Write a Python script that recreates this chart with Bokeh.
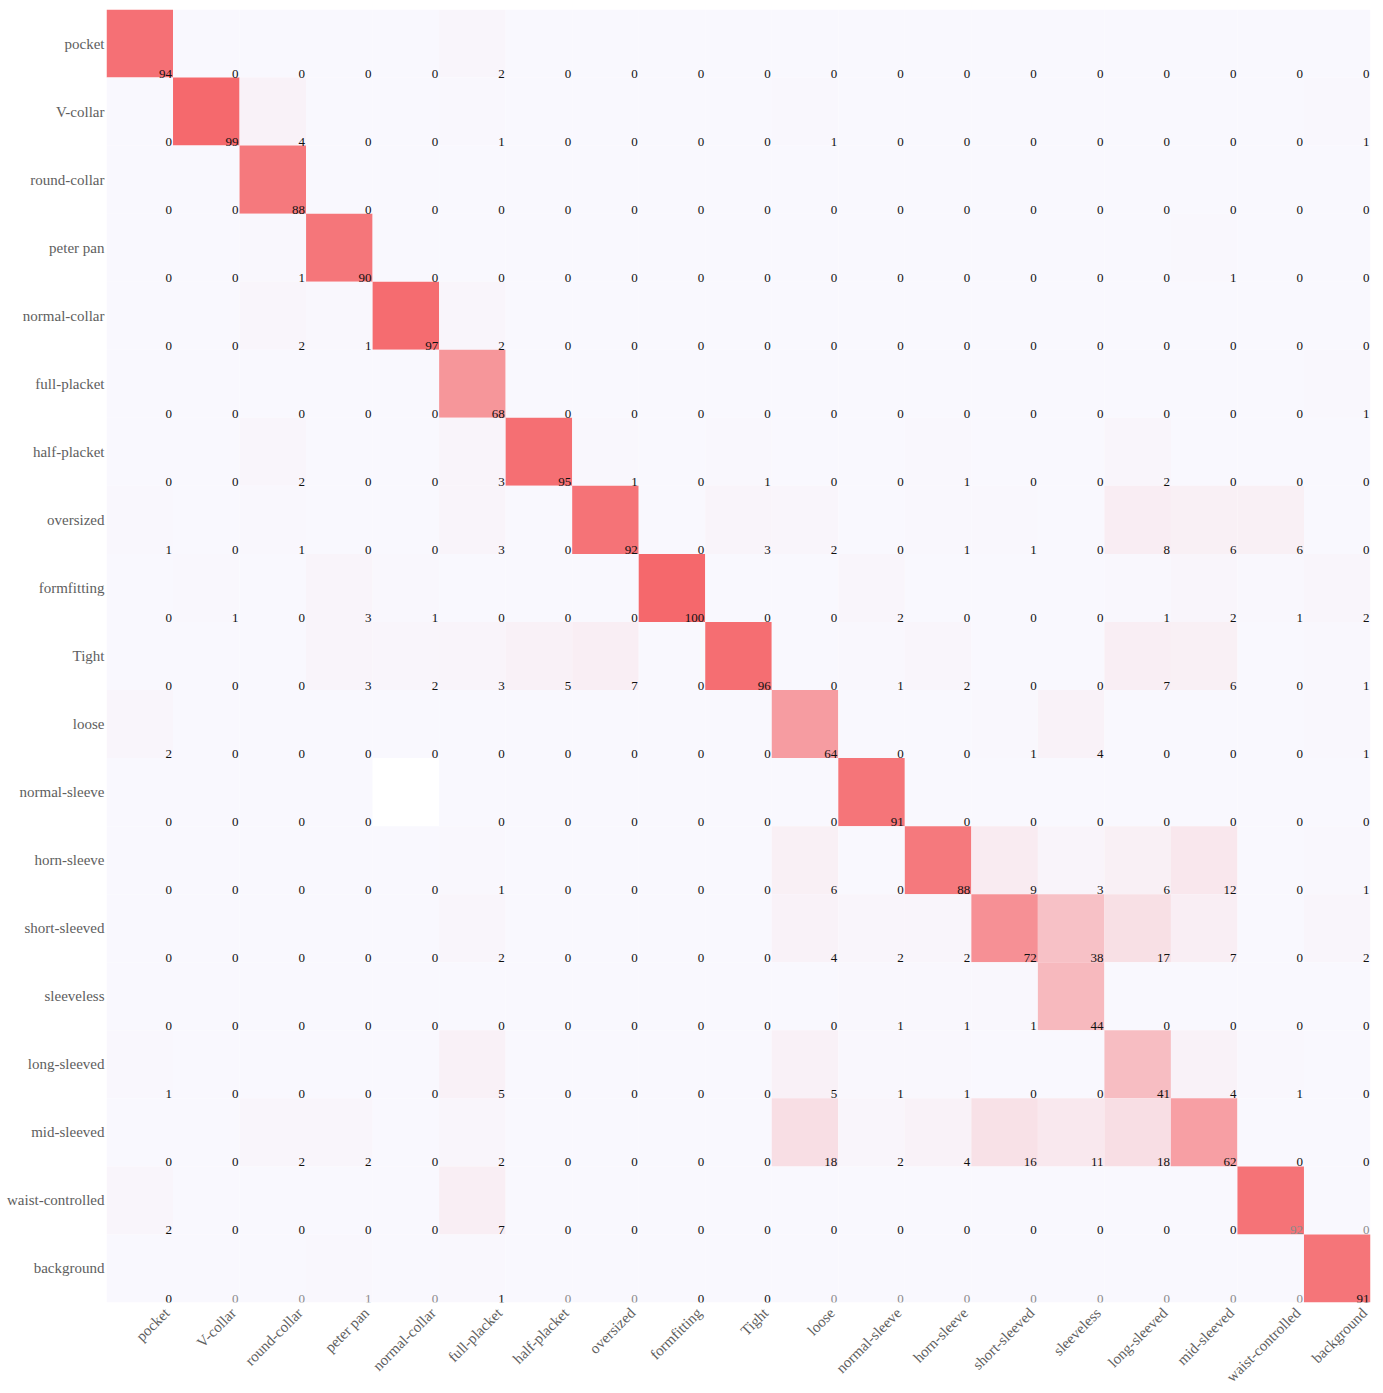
import numpy as np
from bokeh.plotting import figure
from bokeh.models import ColumnDataSource, LinearColorMapper, FixedTicker, Range1d
from bokeh.embed import file_html
from bokeh.resources import INLINE
from bokeh.core.properties import value

labels = ["pocket", "V-collar", "round-collar", "peter pan", "normal-collar",
          "full-placket", "half-placket", "oversized", "formfitting", "Tight",
          "loose", "normal-sleeve", "horn-sleeve", "short-sleeved", "sleeveless",
          "long-sleeved", "mid-sleeved", "waist-controlled", "background"]

row_pocket = [94, 0, 0, 0, 0, 2, 0, 0, 0, 0, 0, 0, 0, 0, 0, 0, 0, 0, 0]
row_v_collar = [0, 99, 4, 0, 0, 1, 0, 0, 0, 0, 1, 0, 0, 0, 0, 0, 0, 0, 1]
row_round_collar = [0, 0, 88, 0, 0, 0, 0, 0, 0, 0, 0, 0, 0, 0, 0, 0, 0, 0, 0]
row_peter_pan = [0, 0, 1, 90, 0, 0, 0, 0, 0, 0, 0, 0, 0, 0, 0, 0, 1, 0, 0]
row_normal_collar = [0, 0, 2, 1, 97, 2, 0, 0, 0, 0, 0, 0, 0, 0, 0, 0, 0, 0, 0]
row_full_placket = [0, 0, 0, 0, 0, 68, 0, 0, 0, 0, 0, 0, 0, 0, 0, 0, 0, 0, 1]
row_half_placket = [0, 0, 2, 0, 0, 3, 95, 1, 0, 1, 0, 0, 1, 0, 0, 2, 0, 0, 0]
row_oversized = [1, 0, 1, 0, 0, 3, 0, 92, 0, 3, 2, 0, 1, 1, 0, 8, 6, 6, 0]
row_formfitting = [0, 1, 0, 3, 1, 0, 0, 0, 100, 0, 0, 2, 0, 0, 0, 1, 2, 1, 2]
row_tight = [0, 0, 0, 3, 2, 3, 5, 7, 0, 96, 0, 1, 2, 0, 0, 7, 6, 0, 1]
row_loose = [2, 0, 0, 0, 0, 0, 0, 0, 0, 0, 64, 0, 0, 1, 4, 0, 0, 0, 1]
row_normal_sleeve = [0, 0, 0, 0, None, 0, 0, 0, 0, 0, 0, 91, 0, 0, 0, 0, 0, 0, 0]
row_horn_sleeve = [0, 0, 0, 0, 0, 1, 0, 0, 0, 0, 6, 0, 88, 9, 3, 6, 12, 0, 1]
row_short_sleeved = [0, 0, 0, 0, 0, 2, 0, 0, 0, 0, 4, 2, 2, 72, 38, 17, 7, 0, 2]
row_sleeveless = [0, 0, 0, 0, 0, 0, 0, 0, 0, 0, 0, 1, 1, 1, 44, 0, 0, 0, 0]
row_long_sleeved = [1, 0, 0, 0, 0, 5, 0, 0, 0, 0, 5, 1, 1, 0, 0, 41, 4, 1, 0]
row_mid_sleeved = [0, 0, 2, 2, 0, 2, 0, 0, 0, 0, 18, 2, 4, 16, 11, 18, 62, 0, 0]
row_waist_controlled = [2, 0, 0, 0, 0, 7, 0, 0, 0, 0, 0, 0, 0, 0, 0, 0, 0, 92, 0]
row_background = [0, 0, 0, 1, 0, 1, 0, 0, 0, 0, 0, 0, 0, 0, 0, 0, 0, 0, 91]

rows = [row_pocket, row_v_collar, row_round_collar, row_peter_pan, row_normal_collar,
        row_full_placket, row_half_placket, row_oversized, row_formfitting, row_tight,
        row_loose, row_normal_sleeve, row_horn_sleeve, row_short_sleeved, row_sleeveless,
        row_long_sleeved, row_mid_sleeved, row_waist_controlled, row_background]

n = len(labels)

# colour palette: pale lavender -> salmon red
lo = np.array([249, 248, 254])
hi = np.array([245, 104, 108])
palette = ["#%02x%02x%02x" % tuple(int(round(c)) for c in lo + (hi - lo) * t)
           for t in np.linspace(0, 1, 256)]
mapper = LinearColorMapper(palette=palette, low=0, high=100, nan_color="white")

gray_text = {(18, c) for c in range(n) if c not in (0, 5, 8, 9, 18)} | {(17, 17), (17, 18)}

cx, cy, cv = [], [], []
tx, ty, tt, tc = [], [], [], []
for r, row in enumerate(rows):
    for c, v in enumerate(row):
        cx.append(c + 0.5)
        cy.append(r + 1)
        cv.append(np.nan if v is None else float(v))
        if v is not None:
            tx.append(c + 1)
            ty.append(r + 1.5)
            tt.append(str(v))
            tc.append("#8a8a8a" if (r, c) in gray_text else "#111111")

cells = ColumnDataSource(dict(x=cx, y=cy, v=cv))
texts = ColumnDataSource(dict(x=tx, y=ty, t=tt, c=tc))

p = figure(width=1383, height=1393,
           x_range=Range1d(0, n), y_range=Range1d(n + 0.5, 0.5),
           output_backend="svg", toolbar_location=None,
           min_border_left=106, min_border_right=13, min_border_top=9, min_border_bottom=70,
           background_fill_color="white", border_fill_color="white",
           outline_line_color=None)

p.rect(x="x", y="y", width=1, height=1, source=cells,
       fill_color={"field": "v", "transform": mapper}, line_color=None)

p.text(x="x", y="y", text="t", source=texts, text_color="c",
       text_align="right", text_baseline="alphabetic", x_offset=-1, y_offset=-4,
       text_font=value("Liberation Serif"), text_font_size="13px")

p.grid.visible = False

xticks = [i + 0.91 for i in range(n)]
p.xaxis.ticker = FixedTicker(ticks=xticks)
p.xaxis.major_label_overrides = {t: lab for t, lab in zip(xticks, labels)}
p.xaxis.major_label_orientation = np.pi / 4
p.yaxis.ticker = FixedTicker(ticks=list(range(1, n + 1)))
p.yaxis.major_label_overrides = {i + 1: lab for i, lab in enumerate(labels)}

for ax in (p.xaxis, p.yaxis):
    ax.axis_line_color = None
    ax.major_tick_line_color = None
    ax.minor_tick_line_color = None
    ax.major_tick_out = 0
    ax.major_tick_in = 0
    ax.minor_tick_out = 0
    ax.major_label_text_font = "Liberation Serif"
    ax.major_label_text_font_size = "15px"
    ax.major_label_text_color = "#5e5e5e"
p.xaxis.major_label_standoff = 8
p.yaxis.major_label_standoff = 2

open("out.html", "w").write(file_html(p, INLINE))
